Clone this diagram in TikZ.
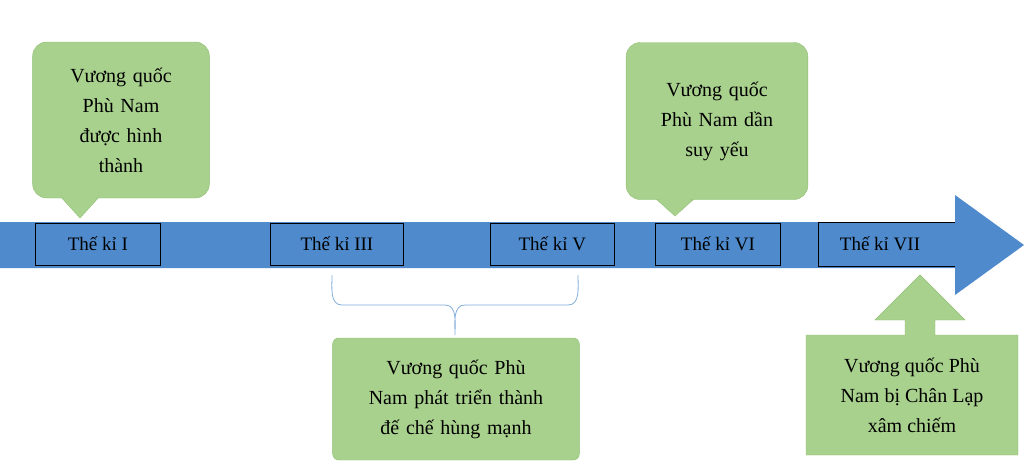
\documentclass[tikz,border=0pt]{standalone}
\usepackage{fontspec}
\setmainfont{Liberation Serif}
\usetikzlibrary{shapes.callouts}
\definecolor{bandblue}{RGB}{78,138,204}
\definecolor{boxgreen}{RGB}{169,209,142}
\definecolor{edgegreen}{RGB}{140,190,110}
\tikzset{
  century/.style={draw=black, thick, fill=bandblue, minimum height=42pt, anchor=west, font=\fontsize{19}{22}\selectfont},
  note/.style={fill=boxgreen, draw=edgegreen, rounded corners=14pt, align=center, font=\fontsize{20}{30}\selectfont, text width=#1},
  note/.default=170pt
}
\begin{document}
\begin{tikzpicture}[x=1pt, y=-1pt]
\useasboundingbox (0,0) rectangle (1024,475);
	%% Truc thoi gian
	\fill[bandblue] (0,222) -- (955,222) -- (955,195) -- (1024,245) -- (955,295) -- (955,268) -- (0,268) -- cycle;

	\node[century, minimum width=125pt] (c1) at (35,244) {Thế kỉ I};
	\node[century, minimum width=133pt] (c3) at (270,244) {Thế kỉ III};
	\node[century, minimum width=124pt] (c5) at (490,244) {Thế kỉ V};
	\node[century, minimum width=125pt] (c6) at (655,244) {Thế kỉ VI};
	\draw[thick] (955,222) -- (818,222) -- (818,266) -- (955,266);
	\node[font=\fontsize{19}{22}\selectfont] (c7) at (880,244) {Thế kỉ VII};

	%% Cac su kien
	\fill[boxgreen, draw=edgegreen] (60,196) -- (80,218) -- (100,196);
	\node[note=170pt, minimum height=156pt] (n1) at (121,120) {Vương quốc\\Phù Nam\\được hình\\thành};
	\fill[boxgreen] (60,192) -- (80,218) -- (100,192) -- cycle;

	\fill[boxgreen, draw=edgegreen] (655,198) -- (675,216) -- (695,198);
	\node[note=175pt, minimum height=157pt] (n2) at (717,121) {Vương quốc\\Phù Nam dần\\suy yếu\\[30pt]};
	\fill[boxgreen] (655,194) -- (675,216) -- (695,194) -- cycle;

	%% Ngoac
	\draw[bandblue!70, thick] (332,275) to[out=-90, in=180] (342,305) -- (445,305)
		to[out=0, in=90] (455,335) to[out=90, in=180] (465,305) -- (568,305)
		to[out=0, in=-90] (578,275);
	\node[note=240pt, minimum height=122pt, rounded corners=6pt] (n3) at (456,399) {Vương quốc Phù\\Nam phát triển thành\\đế chế hùng mạnh};

	%% Chan Lap
	\fill[boxgreen, draw=edgegreen] (806,335) -- (806,455) -- (1018,455) -- (1018,335) -- (935,335)
		-- (935,320) -- (965,320) -- (920,275) -- (875,320) -- (905,320) -- (905,335) -- cycle;
	\node[align=center, font=\fontsize{20}{30}\selectfont] (n4) at (912,395) {Vương quốc Phù\\Nam bị Chân Lạp\\xâm chiếm};
\end{tikzpicture}
\end{document}
